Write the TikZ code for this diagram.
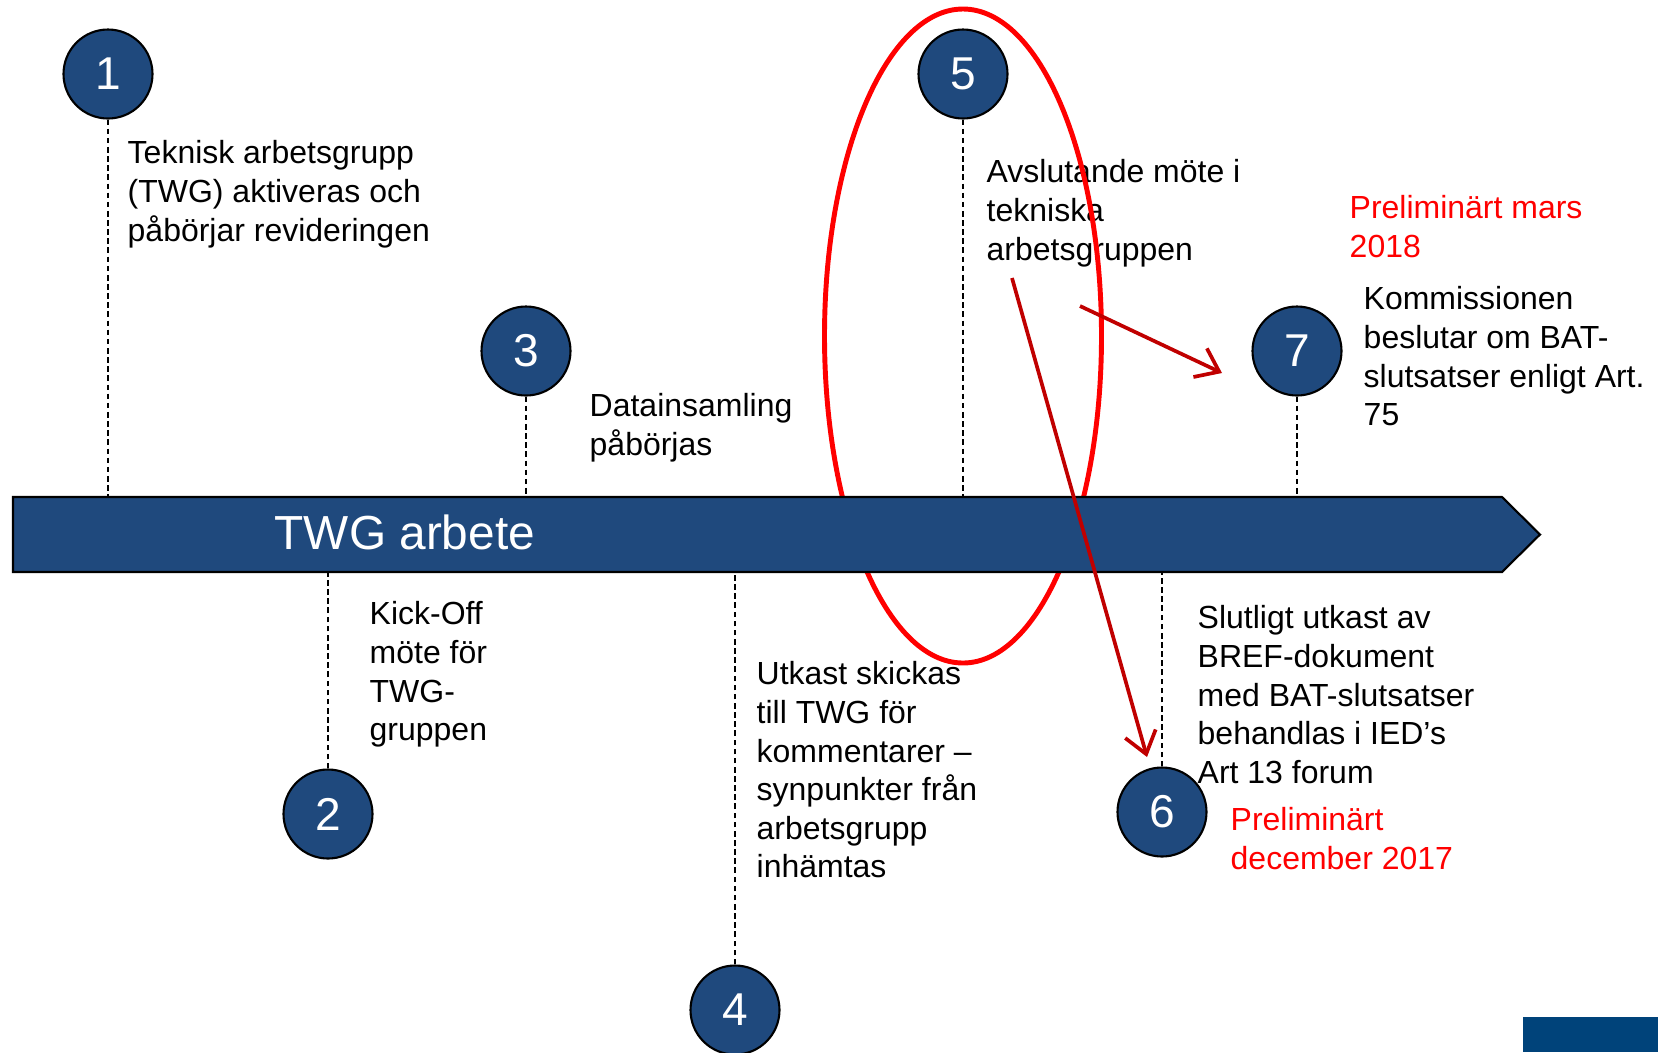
\documentclass[tikz,border=0pt]{standalone}
\usepackage{fontspec}
\setmainfont{Liberation Sans}
\usepackage{xcolor}
\usetikzlibrary{arrows.meta}

\definecolor{twgblue}{RGB}{31,73,125}
\definecolor{cornerblue}{RGB}{0,67,122}
\definecolor{pointred}{RGB}{192,0,0}

\begin{document}
\begin{tikzpicture}[x=0.1mm,y=-0.1mm,
  milestone/.style={circle,draw=black,line width=0.6pt,fill=twgblue,
    minimum size=8.9mm,inner sep=0pt,text=white,
    font=\fontsize{13.1}{15}\selectfont},
  stepnote/.style={anchor=north west,inner sep=0pt,align=left,
    font=\fontsize{9.1}{10.98}\selectfont},
  datenote/.style={stepnote,text=red},
  tick/.style={line width=0.8pt,dash pattern=on 1.6pt off 1pt},
  pointer/.style={pointred,line width=1.05pt,
    -{Straight Barb[length=6pt,width=9pt]}}]

\useasboundingbox (0,0) rectangle (1658,1052);

% Step texts
\node[stepnote] (t1) at (127,140) {Teknisk arbetsgrupp\\(TWG) aktiveras och\\påbörjar revideringen};
\node[stepnote] (t2) at (369,601) {Kick-Off\\möte för\\TWG-\\gruppen};
\node[stepnote] (t3) at (589,393) {Datainsamling\\påbörjas};
\node[stepnote] (t4) at (756,661) {Utkast skickas\\till TWG för\\kommentarer –\\synpunkter från\\arbetsgrupp\\inhämtas};
\node[stepnote] (t5) at (986,159) {Avslutande möte i\\tekniska\\arbetsgruppen};
\node[stepnote] (t6) at (1197,605) {Slutligt utkast av\\BREF-dokument\\med BAT-slutsatser\\behandlas i IED’s\\Art 13 forum};
\node[stepnote] (t7) at (1363,286) {Kommissionen\\beslutar om BAT-\\slutsatser enligt Art.\\75};

% Dates
\node[datenote] (d7) at (1349,195) {Preliminärt mars\\2018};
\node[datenote] (d6) at (1230,807) {Preliminärt\\december 2017};

% Highlight round step 5
\draw[red,line width=1.4pt] (963,336) ellipse [x radius=138.5,y radius=327];

% Timeline bar
\draw[fill=twgblue,line width=0.6pt] (13,497) -- (1502,497) -- (1540,534.5)
  -- (1502,572) -- (13,572) -- cycle;
\node[anchor=west,inner sep=0pt,text=white,font=\fontsize{13.6}{16}\selectfont]
  (bar) at (274,532) {TWG arbete};
\coordinate (bartop) at (0,497);
\coordinate (barbot) at (0,572);

% Milestones
\node[milestone] (c1) at (108,74) {1};
\node[milestone] (c2) at (328,814) {2};
\node[milestone] (c3) at (526,351) {3};
\node[milestone] (c4) at (735,1010) {4};
\node[milestone] (c5) at (963,74) {5};
\node[milestone] (c6) at (1162,812) {6};
\node[milestone] (c7) at (1297,351) {7};

% Ticks to the bar
\foreach \c in {c1,c3,c5,c7}
  \draw[tick] (\c.south) -- (\c.south |- bartop);
\foreach \c in {c2,c4,c6}
  \draw[tick] (\c.north) -- (\c.north |- barbot);

% Red pointers
\coordinate (p6a) at (1012,278);
\coordinate (p6b) at (1147,757);
\coordinate (p7a) at (1080,306);
\coordinate (p7b) at (1222,373);
\draw[pointer] (p6a) -- (p6b);
\draw[pointer] (p7a) -- (p7b);

% Corner block
\fill[cornerblue] (1523,1017) rectangle (1658,1052);

\end{tikzpicture}
\end{document}
